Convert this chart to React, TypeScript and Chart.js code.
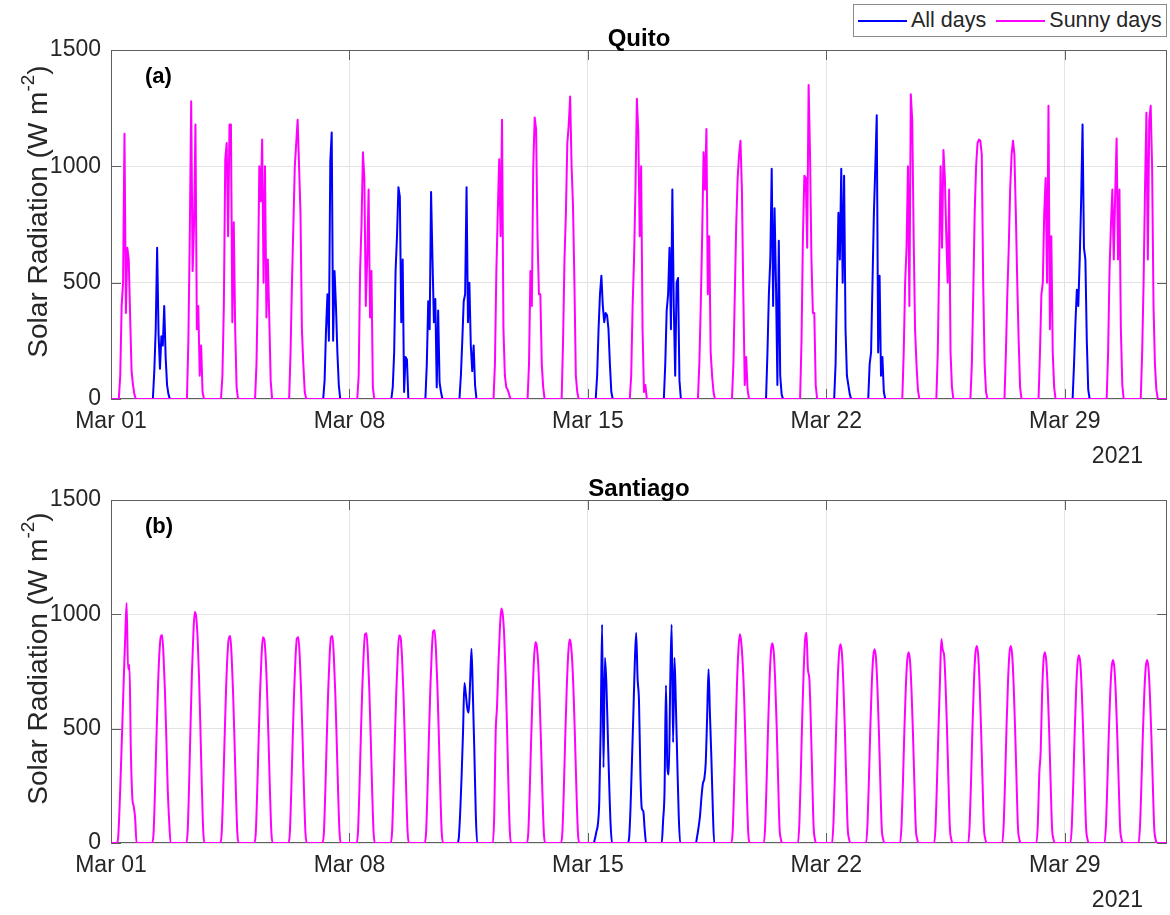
import React, { useEffect, useRef } from 'react';
import { Chart, registerables } from 'chart.js';

Chart.register(...registerables);

// ---------- data ----------
const N_DAYS = 31;
const DAY_TICKS = [0, 7, 14, 21, 28];
const DAY_LABELS = ['Mar 01', 'Mar 08', 'Mar 15', 'Mar 22', 'Mar 29'];
const YEAR_LABEL = '2021';
const Y_TICKS = [0, 500, 1000, 1500];
const SERIES_NAMES = ['All days', 'Sunny days'];

// Quito: hourly values per day, first value at hour 5.5 (local)
const QUITO_START_HOUR = 5.5;
const quitoProfiles = [
  [0, 100, 400, 500, 1140, 370, 650, 600, 350, 120, 60, 20, 0],
  [0, 120, 300, 650, 280, 130, 270, 230, 400, 180, 60, 20, 0],
  [0, 250, 700, 1280, 550, 750, 1180, 300, 400, 100, 230, 30, 0],
  [0, 100, 400, 1030, 1100, 700, 1180, 1180, 330, 760, 300, 50, 0],
  [0, 150, 500, 1000, 850, 1115, 500, 1000, 350, 600, 350, 80, 0],
  [0, 200, 500, 750, 1000, 1100, 1200, 1000, 800, 300, 150, 30, 0],
  [0, 80, 300, 450, 250, 1020, 1145, 250, 550, 400, 200, 60, 0],
  [0, 100, 550, 750, 1060, 950, 400, 600, 900, 350, 550, 50, 0],
  [0, 50, 200, 550, 700, 910, 870, 330, 600, 30, 180, 170, 0],
  [0, 150, 420, 300, 890, 600, 330, 430, 50, 380, 70, 30, 0],
  [0, 100, 250, 420, 450, 910, 330, 500, 230, 120, 230, 60, 0],
  [0, 150, 550, 800, 1030, 700, 1200, 300, 100, 50, 40, 20, 0],
  [0, 150, 550, 400, 1000, 1210, 1160, 700, 450, 450, 150, 50, 0],
  [0, 250, 600, 800, 1100, 1180, 1300, 1000, 830, 500, 100, 30, 0],
  [0, 100, 300, 450, 530, 400, 330, 370, 360, 300, 150, 30, 0],
  [0, 100, 400, 600, 900, 1290, 1150, 700, 1000, 300, 30, 60, 0],
  [0, 150, 380, 450, 650, 300, 900, 400, 100, 500, 520, 80, 0],
  [0, 150, 400, 700, 1060, 900, 1160, 450, 700, 200, 100, 30, 0],
  [0, 150, 450, 750, 950, 1050, 1110, 900, 450, 60, 180, 40, 0],
  [0, 200, 450, 600, 990, 400, 820, 500, 60, 680, 100, 20, 0],
  [0, 250, 700, 960, 950, 650, 1350, 1050, 600, 370, 370, 60, 0],
  [0, 150, 500, 800, 600, 990, 500, 960, 300, 100, 60, 20, 0],
  [0, 150, 200, 500, 800, 1000, 1220, 200, 530, 100, 180, 30, 0],
  [0, 200, 500, 650, 1000, 400, 1310, 1200, 700, 300, 150, 40, 0],
  [0, 200, 600, 1000, 650, 1070, 950, 700, 500, 900, 200, 50, 0],
  [0, 150, 450, 800, 1000, 1100, 1115, 1110, 1050, 500, 150, 30, 0],
  [0, 200, 450, 650, 900, 1050, 1110, 1050, 800, 500, 250, 50, 0],
  [0, 200, 450, 500, 800, 950, 500, 1260, 300, 700, 200, 50, 0],
  [0, 150, 330, 470, 400, 600, 850, 1180, 650, 600, 250, 40, 0],
  [0, 200, 550, 750, 900, 600, 880, 1120, 600, 900, 300, 60, 0],
  [0, 200, 500, 900, 1230, 600, 1200, 1260, 1000, 400, 150, 40, 0],
];
const quitoSunnyDays = [0, 2, 3, 4, 5, 7, 11, 12, 13, 15, 17, 18, 20, 23, 24, 25, 26, 27, 29, 30];

// Santiago: hourly values per day, first value at hour 5
const SANTIAGO_START_HOUR = 5;
const santiagoProfiles = [
  [20, 150, 330, 520, 720, 900, 1050, 760, 780, 400, 200, 160, 110, 0],
  [0, 45, 230, 455, 665, 820, 900, 910, 820, 665, 455, 230, 95, 0],
  [0, 50, 250, 505, 740, 910, 1010, 990, 900, 730, 500, 250, 50, 0],
  [0, 45, 225, 450, 660, 815, 895, 905, 815, 660, 450, 225, 45, 0],
  [0, 45, 225, 450, 655, 810, 900, 890, 810, 655, 450, 225, 45, 0],
  [0, 45, 225, 450, 660, 812, 895, 900, 812, 655, 448, 222, 45, 0],
  [0, 46, 228, 452, 662, 815, 900, 905, 815, 660, 452, 226, 46, 0],
  [0, 46, 230, 458, 670, 825, 912, 917, 825, 668, 458, 229, 46, 0],
  [0, 45, 227, 453, 662, 816, 907, 900, 816, 662, 453, 227, 45, 0],
  [0, 47, 233, 465, 680, 837, 925, 930, 837, 680, 465, 233, 47, 0],
  [20, 130, 290, 480, 700, 650, 590, 570, 700, 850, 640, 400, 130, 0],
  [0, 120, 480, 600, 790, 940, 1025, 1000, 910, 740, 510, 255, 50, 0],
  [0, 45, 225, 450, 650, 800, 878, 860, 780, 630, 430, 210, 40, 0],
  [0, 45, 225, 455, 660, 810, 890, 870, 790, 640, 435, 215, 42, 0],
  [20, 50, 80, 180, 500, 955, 330, 810, 700, 480, 260, 80, 0, 0],
  [20, 150, 350, 560, 780, 920, 720, 620, 300, 150, 140, 60, 0, 0],
  [100, 230, 690, 330, 300, 700, 955, 440, 810, 600, 350, 120, 0, 0],
  [30, 70, 120, 200, 260, 280, 350, 550, 760, 560, 370, 150, 0, 0],
  [0, 50, 240, 470, 690, 840, 913, 880, 790, 650, 440, 215, 40, 0],
  [85, 290, 520, 715, 840, 873, 830, 700, 510, 280, 70, 15, 0, 0],
  [90, 300, 550, 750, 890, 920, 760, 720, 540, 300, 75, 15, 0, 0],
  [87, 287, 520, 713, 834, 869, 826, 695, 504, 278, 70, 17, 0, 0],
  [85, 280, 508, 695, 813, 847, 805, 678, 491, 271, 68, 17, 0, 0],
  [83, 275, 500, 684, 800, 834, 792, 667, 484, 267, 67, 17, 0, 0],
  [80, 280, 500, 700, 892, 844, 820, 690, 500, 275, 70, 17, 0, 0],
  [86, 285, 517, 707, 828, 862, 819, 690, 500, 276, 69, 17, 0, 0],
  [90, 290, 520, 710, 830, 862, 815, 685, 495, 272, 68, 16, 0, 0],
  [83, 300, 400, 650, 800, 834, 792, 667, 484, 267, 67, 17, 0, 0],
  [82, 271, 493, 673, 788, 821, 780, 657, 476, 263, 66, 16, 0, 0],
  [80, 264, 480, 656, 768, 800, 760, 640, 464, 256, 64, 16, 0, 0],
  [78, 262, 478, 654, 766, 800, 762, 642, 466, 258, 66, 16, 0, 0],
];
const santiagoSunnyDays = [0, 1, 2, 3, 4, 5, 6, 7, 8, 9, 11, 12, 13, 18, 19, 20, 21, 22, 23, 24, 25, 26, 27, 28, 29, 30];

// ---------- styling ----------
const FONT = "'Liberation Sans', Arial, Helvetica, sans-serif";
const TEXT = '#262626';
const BLUE = '#0000ff';
const MAGENTA = '#ff00ff';
const GRID = '#e3e3e3';
const FRAME = '#5f5f5f';

type Pt = { x: number; y: number };

function buildSeries(profiles: number[][], start: number, keep: (d: number) => boolean): Pt[] {
  const pts: Pt[] = [{ x: 0, y: 0 }];
  profiles.forEach((p, d) => {
    const base = d * 24 + start;
    pts.push({ x: base - 1, y: 0 });
    p.forEach((v, i) => pts.push({ x: base + i, y: keep(d) ? v : 0 }));
    pts.push({ x: base + p.length, y: 0 });
  });
  pts.push({ x: N_DAYS * 24, y: 0 });
  return pts;
}

const decorPlugin = {
  id: 'decor',
  beforeDatasetsDraw(chart: any) {
    const { ctx, chartArea: a } = chart;
    ctx.save();
    ctx.strokeStyle = FRAME;
    ctx.lineWidth = 1;
    ctx.strokeRect(a.left + 0.5, a.top + 0.5, a.right - a.left - 1, a.bottom - a.top - 1);
    const xs = chart.scales.x;
    const ys = chart.scales.y;
    const TL = 10;
    ctx.beginPath();
    DAY_TICKS.forEach((d) => {
      const px = Math.round(xs.getPixelForValue(d * 24)) + 0.5;
      ctx.moveTo(px, a.bottom);
      ctx.lineTo(px, a.bottom - TL);
      ctx.moveTo(px, a.top);
      ctx.lineTo(px, a.top + TL);
    });
    Y_TICKS.forEach((v) => {
      const py = Math.round(ys.getPixelForValue(v)) + 0.5;
      ctx.moveTo(a.left, py);
      ctx.lineTo(a.left + TL, py);
      ctx.moveTo(a.right, py);
      ctx.lineTo(a.right - TL, py);
    });
    ctx.stroke();
    ctx.restore();
  },
  afterDraw(chart: any) {
    const { ctx, chartArea: a } = chart;
    const o = chart.options.plugins.decor;
    ctx.save();
    ctx.fillStyle = '#000';
    // title
    ctx.font = `bold 24px ${FONT}`;
    ctx.textAlign = 'center';
    ctx.textBaseline = 'alphabetic';
    ctx.fillText(o.title, (a.left + a.right) / 2, a.top - 4);
    // panel tag
    ctx.font = `bold 22px ${FONT}`;
    ctx.textAlign = 'left';
    ctx.fillText(o.tag, a.left + 34, a.top + 33);
    // year label
    ctx.fillStyle = TEXT;
    ctx.font = `23px ${FONT}`;
    ctx.textAlign = 'right';
    ctx.fillText(YEAR_LABEL, a.right - 24, a.bottom + 64);
    // y axis label with superscript
    const main = `28px ${FONT}`;
    const sup = `19px ${FONT}`;
    const partA = 'Solar Radiation (W m';
    const partS = '-2';
    const partB = ')';
    ctx.font = main;
    const wa = ctx.measureText(partA).width;
    const wb = ctx.measureText(partB).width;
    ctx.font = sup;
    const ws = ctx.measureText(partS).width;
    const total = wa + ws + wb;
    ctx.translate(47, (a.top + a.bottom) / 2 - 13);
    ctx.rotate(-Math.PI / 2);
    ctx.textAlign = 'left';
    ctx.textBaseline = 'alphabetic';
    let x = -total / 2;
    ctx.font = main;
    ctx.fillText(partA, x, 0);
    x += wa;
    ctx.font = sup;
    ctx.fillText(partS, x, -13);
    x += ws;
    ctx.font = main;
    ctx.fillText(partB, x, 0);
    ctx.restore();
  },
};

function makeConfig(
  profiles: number[][],
  start: number,
  sunnyDays: number[],
  title: string,
  tag: string,
  padTop: number,
  xAxisHeight: number,
  smooth: boolean
): any {
  const all = buildSeries(profiles, start, () => true);
  const sunny = buildSeries(profiles, start, (d) => sunnyDays.includes(d));
  const common = {
    pointRadius: 0,
    borderWidth: 2,
    borderJoinStyle: 'round',
    fill: false,
    tension: 0,
    cubicInterpolationMode: smooth ? 'monotone' : 'default',
  };
  const isSunny = (x: number) => sunnyDays.includes(Math.floor(x / 24));
  return {
    type: 'line',
    data: {
      datasets: [
        { ...common, label: SERIES_NAMES[1], data: sunny, borderColor: MAGENTA, order: 0 },
        {
          ...common,
          label: SERIES_NAMES[0],
          data: all,
          borderColor: BLUE,
          order: 1,
          // the blue trace is hidden under the magenta one on sunny days
          segment: {
            borderColor: (c: any) => {
              const x0 = c.p0.parsed.x;
              const x1 = c.p1.parsed.x;
              const flat = c.p0.parsed.y === 0 && c.p1.parsed.y === 0;
              return flat || isSunny(x0) || isSunny(x1) ? 'rgba(0,0,0,0)' : undefined;
            },
          },
        },
      ],
    },
    options: {
      animation: false,
      responsive: false,
      events: [],
      layout: { padding: { top: padTop, right: 3, left: 0, bottom: 0 } },
      plugins: {
        legend: { display: false },
        tooltip: { enabled: false },
        title: { display: false },
        decor: { title, tag },
      },
      scales: {
        x: {
          type: 'linear',
          min: 0,
          max: N_DAYS * 24,
          afterBuildTicks: (s: any) => {
            s.ticks = DAY_TICKS.map((d) => ({ value: d * 24 }));
          },
          afterFit: (s: any) => {
            s.height = xAxisHeight;
          },
          ticks: {
            autoSkip: false,
            maxRotation: 0,
            padding: 9,
            color: TEXT,
            font: { family: FONT, size: 23 },
            callback: (v: number) => DAY_LABELS[DAY_TICKS.indexOf(Math.round(v / 24))],
          },
          grid: { color: GRID, drawTicks: false, lineWidth: 1 },
          border: { display: false },
        },
        y: {
          min: 0,
          max: 1500,
          afterBuildTicks: (s: any) => {
            s.ticks = Y_TICKS.map((v) => ({ value: v }));
          },
          afterFit: (s: any) => {
            s.width = 111;
          },
          ticks: {
            padding: 10,
            color: TEXT,
            font: { family: FONT, size: 23 },
            callback: (v: number) => String(v),
          },
          grid: { color: GRID, drawTicks: false, lineWidth: 1 },
          border: { display: false },
        },
      },
    },
    plugins: [decorPlugin],
  };
}

function Panel(props: {
  profiles: number[][];
  start: number;
  sunny: number[];
  title: string;
  tag: string;
  height: number;
  padTop: number;
  xAxisHeight: number;
  smooth: boolean;
  top: number;
}) {
  const ref = useRef<HTMLCanvasElement | null>(null);
  useEffect(() => {
    if (!ref.current) return;
    const chart = new Chart(
      ref.current,
      makeConfig(props.profiles, props.start, props.sunny, props.title, props.tag, props.padTop, props.xAxisHeight, props.smooth)
    );
    return () => chart.destroy();
  }, []);
  return (
    <canvas
      ref={ref}
      width={1170}
      height={props.height}
      style={{ position: 'absolute', left: 0, top: props.top, width: 1170, height: props.height, display: 'block' }}
    />
  );
}

function Legend() {
  const item = (color: string, text: string, gapAfter: number) => (
    <div style={{ display: 'flex', alignItems: 'center', marginRight: gapAfter }}>
      <div style={{ width: 49, height: 2, background: color, marginRight: 4 }} />
      <span>{text}</span>
    </div>
  );
  return (
    <div
      style={{
        position: 'absolute',
        left: 853,
        top: 4,
        width: 314,
        height: 33,
        border: '1px solid #8a8a8a',
        background: '#fff',
        display: 'flex',
        alignItems: 'center',
        paddingLeft: 4,
        boxSizing: 'border-box',
        fontFamily: FONT,
        fontSize: 21.5,
        color: TEXT,
        whiteSpace: 'nowrap',
      }}
    >
      {item(BLUE, SERIES_NAMES[0], 10)}
      {item(MAGENTA, SERIES_NAMES[1], 0)}
    </div>
  );
}

export default function App() {
  return (
    <div style={{ position: 'absolute', left: 0, top: 0, width: 1170, height: 915, background: '#fff', overflow: 'hidden' }}>
      <Panel
        profiles={quitoProfiles}
        start={QUITO_START_HOUR}
        sunny={quitoSunnyDays}
        title="Quito"
        tag="(a)"
        height={470}
        padTop={50}
        xAxisHeight={71}
        smooth={false}
        top={0}
      />
      <Panel
        profiles={santiagoProfiles}
        start={SANTIAGO_START_HOUR}
        sunny={santiagoSunnyDays}
        title="Santiago"
        tag="(b)"
        height={445}
        padTop={30}
        xAxisHeight={72}
        smooth={true}
        top={470}
      />
      <Legend />
    </div>
  );
}
